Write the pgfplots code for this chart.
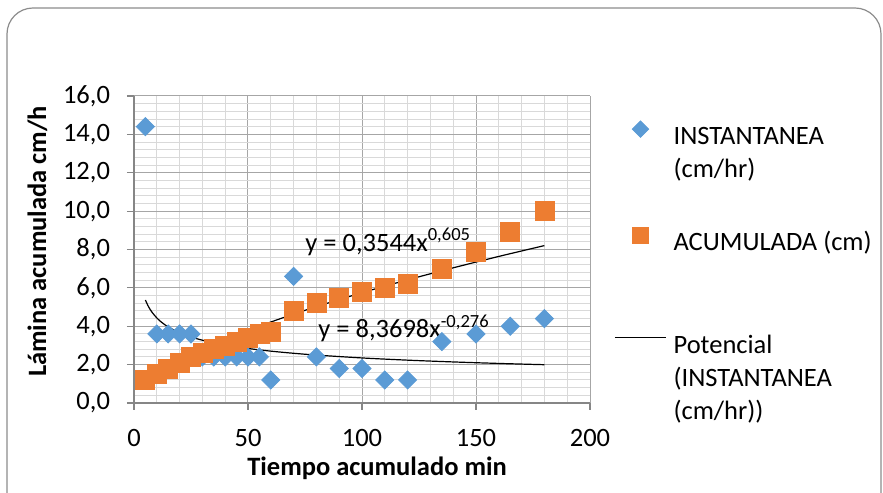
\documentclass[border=0pt]{standalone}
\usepackage{fontspec}
\setmainfont{Carlito}
\usepackage{pgfplots}
\pgfplotsset{compat=1.18}
\definecolor{blu}{HTML}{5B9BD5}
\definecolor{ora}{HTML}{ED7D31}
\definecolor{gmaj}{HTML}{A6A6A6}
\definecolor{gmin}{HTML}{D9D9D9}
\definecolor{axc}{HTML}{868686}
\definecolor{frm}{HTML}{8C8C8C}
\newcommand{\fs}{\fontsize{13.25bp}{16.5bp}\selectfont}
\pgfplotsset{
  legdiam/.style={legend image code/.code={\path (0bp,0bp) (25.5bp,0bp); \draw[##1, mark size=2.9bp] plot coordinates {(12.75bp,4.2bp)};}},
  legsq/.style={legend image code/.code={\path (0bp,0bp) (25.5bp,0bp); \draw[##1, mark size=4.2bp] plot coordinates {(12.75bp,4.2bp)};}},
  legline/.style={legend image code/.code={\draw[##1] (0bp,4.2bp) -- (25.5bp,4.2bp);}},
}
\begin{document}
\begin{tikzpicture}
\useasboundingbox (-67bp,-45bp) rectangle (374.5bp,201.5bp);
\draw[frm, line width=0.6bp, rounded corners=13bp] (-63.5bp,-70bp) rectangle (373.5bp,197.5bp);
\begin{axis}[
  scale only axis, width=228bp, height=153.5bp,
  xmin=0, xmax=200, ymin=0, ymax=16,
  xtick={0,50,...,200}, ytick={0,2,...,16},
  minor x tick num=4, minor y tick num=4,
  grid=both,
  major grid style={gmaj, line width=0.5bp},
  minor grid style={gmin, line width=0.5bp},
  axis lines*=left,
  axis line style={axc, line width=0.6bp},
  tick style={axc, line width=0.6bp},
  tick align=outside,
  major tick length=3.5bp,
  minor tick length=0pt,
  /pgf/number format/assume math mode=true,
  tick label style={font=\fs},
  xticklabel style={yshift=-6bp},
  yticklabel style={xshift=-5bp, /pgf/number format/.cd, fixed, fixed zerofill, precision=1, use comma},
  label style={font=\fs\bfseries},
  xlabel={Tiempo acumulado min},
  ylabel={Lámina acumulada cm/h},
  xlabel style={at={(axis description cs:0.533,-0.213)}, anchor=center},
  ylabel style={at={(axis description cs:-0.212,0.526)}, anchor=center},
  legend style={draw=none, fill=none, font=\fs, inner xsep=0pt, inner ysep=0pt,
    at={(axis description cs:1.0526,0.9202)}, anchor=north west,
    nodes={inner sep=0pt, text height=10bp, text depth=3bp},
    row sep=38.2bp, column sep=3.5bp},
  legend cell align=left,
]
\addplot[only marks, mark=square*, mark size=3.2bp,
  mark options={draw=blu, fill=blu, rotate=45}, legdiam]
  coordinates {(5,14.4) (10,3.6) (15,3.6) (20,3.6) (25,3.6) (30,2.4) (35,2.4) (40,2.4) (45,2.4) (50,2.4) (55,2.4) (60,1.2) (70,6.6) (80,2.4) (90,1.8) (100,1.8) (110,1.2) (120,1.2) (135,3.2) (150,3.6) (165,4.0) (180,4.4)};
\addlegendentry{\parbox[t]{110bp}{INSTANTANEA\\(cm/hr)}}
\addplot[only marks, mark=square*, mark size=4.75bp,
  mark options={draw=ora, fill=ora}, legsq]
  coordinates {(5,1.2) (10,1.5) (15,1.8) (20,2.1) (25,2.4) (30,2.6) (35,2.8) (40,3.0) (45,3.2) (50,3.4) (55,3.6) (60,3.7) (70,4.8) (80,5.2) (90,5.5) (100,5.8) (110,6.0) (120,6.2) (135,7.0) (150,7.9) (165,8.9) (180,10.0)};
\addlegendentry{\parbox[t]{110bp}{ACUMULADA (cm)}}
\addplot[black, line width=0.6bp, smooth, no marks, forget plot]
  coordinates {(5,0.938) (10,1.427) (15,1.824) (20,2.171) (25,2.485) (30,2.774) (40,3.302) (50,3.779) (60,4.220) (70,4.632) (80,5.022) (100,5.748) (120,6.418) (140,7.045) (160,7.639) (180,8.203)};
\addplot[black, line width=0.6bp, smooth, no marks, legline]
  coordinates {(5,5.368) (6,5.105) (7,4.891) (8,4.715) (10,4.434) (12,4.216) (15,3.964) (20,3.661) (25,3.443) (30,3.274) (40,3.024) (50,2.843) (60,2.703) (70,2.591) (80,2.498) (100,2.348) (120,2.233) (140,2.140) (160,2.062) (180,1.996)};
\addlegendentry{\parbox[t]{110bp}{Potencial\\(INSTANTANEA\\(cm/hr))}}
\node[anchor=base west, font=\fs, inner sep=0pt] at (axis cs:75,7.92) {y = 0,3544x\textsuperscript{0,605}};
\node[anchor=base west, font=\fs, inner sep=0pt] at (axis cs:80.7,3.40) {y = 8,3698x\textsuperscript{-0,276}};
\end{axis}
\end{tikzpicture}
\end{document}
